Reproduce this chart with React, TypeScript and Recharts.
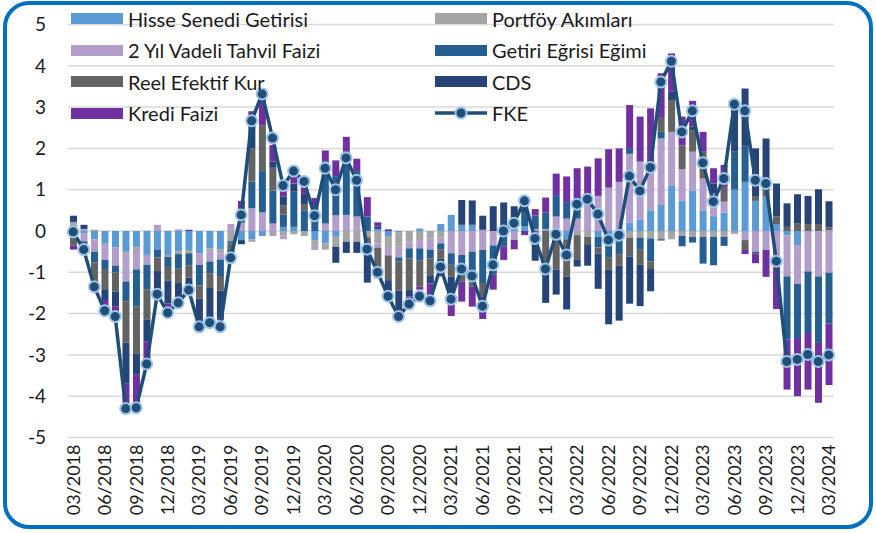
import React from "react";
import { Bar, CartesianGrid, ComposedChart, Line, XAxis, YAxis } from "recharts";

const months = [
  "03/2018", "04/2018", "05/2018", "06/2018", "07/2018", "08/2018", "09/2018", "10/2018", "11/2018", "12/2018",
  "01/2019", "02/2019", "03/2019", "04/2019", "05/2019", "06/2019", "07/2019", "08/2019", "09/2019", "10/2019",
  "11/2019", "12/2019", "01/2020", "02/2020", "03/2020", "04/2020", "05/2020", "06/2020", "07/2020", "08/2020",
  "09/2020", "10/2020", "11/2020", "12/2020", "01/2021", "02/2021", "03/2021", "04/2021", "05/2021", "06/2021",
  "07/2021", "08/2021", "09/2021", "10/2021", "11/2021", "12/2021", "01/2022", "02/2022", "03/2022", "04/2022",
  "05/2022", "06/2022", "07/2022", "08/2022", "09/2022", "10/2022", "11/2022", "12/2022", "01/2023", "02/2023",
  "03/2023", "04/2023", "05/2023", "06/2023", "07/2023", "08/2023", "09/2023", "10/2023", "11/2023", "12/2023",
  "01/2024", "02/2024", "03/2024",
];

const hisse = [
  0.12, -0.05, -0.2, -0.31, -0.4, -0.5, -0.4, -0.58, -0.46, -0.58,
  -0.5, -0.46, -0.54, -0.42, -0.44, 0, -0.22, -0.2, -0.12, 0,
  0.1, 0.1, 0, -0.22, -0.3, -0.14, 0, 0, 0, 0.05,
  -0.14, -0.03, 0, 0.06, 0, 0.17, 0.39, 0.15, 0.15, 0,
  0, 0, 0.15, 0.12, 0, 0, 0, -0.2, 0, 0,
  -0.14, -0.1, 0, 0.2, 0.27, 0.5, 0.63, 1.09, 0.73, 0.98,
  0.5, 0.36, 0.44, 1.0, 1.19, 0.73, 0.83, 0.17, -0.11, -0.34,
  0, 0, 0,
];
const portfoy = [
  0.1, 0.05, 0.03, 0, 0, -0.05, -0.06, 0, 0, -0.05,
  -0.06, -0.08, 0, -0.08, -0.1, -0.25, 0, -0.06, 0, -0.12,
  -0.1, -0.08, -0.12, -0.14, -0.15, -0.24, -0.26, -0.26, -0.15, -0.3,
  -0.27, -0.34, -0.28, -0.22, -0.18, -0.15, 0, 0, 0, 0.03,
  0, 0, 0, 0, 0, 0, 0, 0, -0.1, -0.14,
  0, 0, -0.06, -0.16, -0.16, -0.18, -0.2, -0.2, -0.12, -0.14,
  -0.14, -0.14, -0.14, -0.07, 0, 0, 0, 0, 0, 0,
  0, 0, 0.02,
];
const tahvil = [
  0, -0.2, -0.3, -0.39, -0.44, -0.67, -0.47, -0.24, 0.15, 0,
  0.04, 0, -0.28, -0.24, -0.15, 0.17, 0.2, 0.55, 0.45, 0.18,
  -0.1, 0, 0, -0.1, 0.18, 0.38, 0.39, 0.35, 0, -0.1,
  -0.18, -0.27, -0.14, -0.2, -0.27, -0.15, -0.54, -0.58, -0.5, -0.46,
  -0.35, 0, -0.22, 0, 0.05, 0.05, 0.35, 0.3, 0.3, 0.83,
  0.85, 1.05, 1.19, 1.67, 1.41, 1.14, 1.61, 1.31, 0.77, 0.94,
  0.77, 0.55, 0.27, 0, -0.22, -0.5, -0.46, -0.74, -0.99, -0.94,
  -0.98, -1.1, -1.01,
];
const getiri = [
  -0.15, -0.05, -0.26, -0.22, -0.16, -0.48, -0.9, -0.59, -0.18, -0.24,
  -0.34, -0.3, -0.5, -0.28, -0.4, -0.05, 0.35, 0.65, 1.0, 0.8,
  0.3, 0.85, 0.5, 0.55, 1.5, 0.95, 1.53, 1.1, 0.35, 0,
  0, -0.1, -0.24, -0.3, -0.22, -0.14, -0.28, -0.3, -0.73, -0.8,
  -0.7, -0.38, 0, 0.32, 0.32, 0.4, 0.52, 0.4, 0.4, 0,
  -0.26, -0.55, -0.5, 0.12, -0.28, -0.56, 0.16, 0, -0.25, -0.14,
  -0.65, -0.69, -0.22, 0.92, 0.89, -0.04, 0, 0, -1.53, -1.31,
  -1.49, -1.61, -1.23,
];
const reel = [
  -0.2, 0, -0.6, -0.49, -0.47, -1.0, -1.15, -0.73, -0.33, -0.33,
  -0.36, -0.29, -0.32, -0.36, -0.35, -0.15, 0, 0.8, 1.1, 0.55,
  0.22, 0, 0.15, 0, 0, 0, 0, 0, -0.25, -0.75,
  -0.6, -0.7, -0.77, -0.62, -0.4, -0.23, -0.28, -0.35, -0.12, -0.32,
  0, 0, 0, 0, -0.2, -0.94, -0.94, -0.9, -0.6, -0.18,
  -0.15, -0.28, -0.28, -0.46, -0.38, -0.16, 0.36, 0.77, 0.57, 0.52,
  0.65, 0, 0.36, 0, -0.24, 0.1, 0.16, 0.18, 0.1, 0.19,
  0.17, 0.17, 0.07,
];
const cds = [
  0.15, 0.1, 0, -0.26, -0.35, -1.0, -0.5, -0.54, -0.54, -0.56,
  -0.4, -0.31, -0.7, -0.85, -0.67, -0.2, -0.1, 0.6, 0, 0.15,
  0.22, 0.2, 0.25, 0, 0, -0.39, -0.27, -0.27, -0.85, 0.06,
  -0.4, -0.6, -0.16, 0, -0.2, -0.35, -0.52, 0.6, 0.59, 0.34,
  0.6, 0.69, 0.45, 0.35, -0.52, -0.8, -0.6, -0.8, -0.16, -0.52,
  -0.85, -1.33, -1.33, -1.14, -1.0, -0.56, -0.03, 0.2, 0, 0.09,
  0, 0.24, 0, 1.25, 1.37, 1.17, 1.25, 0.8, 0.57, 0.7,
  0.68, 0.84, 0.63,
];
const kredi = [
  -0.1, -0.15, 0, -0.16, -0.14, -0.56, -0.75, -0.52, 0, -0.1,
  -0.08, 0.03, 0, 0, -0.05, 0, 0.18, 0.3, 0.9, 0.4,
  0.35, 0.2, 0.25, 0.25, 0.27, 0.38, 0.36, 0.3, 0.47, 0.1,
  0.04, 0, -0.08, -0.08, -0.28, -0.08, -0.44, -0.48, -0.48, -0.55,
  -0.37, -0.32, -0.22, -0.1, 0.16, 0.36, 0.52, 0.62, 0.82, 0.73,
  0.91, 0.93, 0.81, 1.06, 1.09, 1.33, 1.06, 0.93, 0.7, 0.62,
  0.48, 0.37, 0.53, 0, -0.1, -0.24, -0.65, -1.15, -1.21, -1.41,
  -1.37, -1.45, -1.49,
];
const fke = [
  -0.02, -0.45, -1.35, -1.93, -2.07, -4.3, -4.28, -3.22, -1.53, -1.98,
  -1.74, -1.43, -2.32, -2.22, -2.32, -0.65, 0.39, 2.67, 3.32, 2.25,
  1.1, 1.45, 1.2, 0.37, 1.52, 1.0, 1.77, 1.23, -0.44, -1.0,
  -1.58, -2.07, -1.77, -1.58, -1.69, -0.87, -1.65, -0.92, -1.09, -1.82,
  -0.82, 0.0, 0.19, 0.73, -0.18, -0.92, -0.08, -0.58, 0.65, 0.77,
  0.41, -0.22, -0.1, 1.33, 0.97, 1.54, 3.61, 4.11, 2.4, 2.91,
  1.65, 0.71, 1.27, 3.07, 2.91, 1.23, 1.15, -0.73, -3.16, -3.11,
  -2.99, -3.16, -3.0,
];

const yTicks = [-5, -4, -3, -2, -1, 0, 1, 2, 3, 4, 5];

const series = [
  { key: "hisse", name: "Hisse Senedi Getirisi", color: "#5B9BD5" },
  { key: "portfoy", name: "Portföy Akımları", color: "#A5A5A5" },
  { key: "tahvil", name: "2 Yıl Vadeli Tahvil Faizi", color: "#B29DCB" },
  { key: "getiri", name: "Getiri Eğrisi Eğimi", color: "#255E91" },
  { key: "reel", name: "Reel Efektif Kur", color: "#636363" },
  { key: "cds", name: "CDS", color: "#264478" },
  { key: "kredi", name: "Kredi Faizi", color: "#7030A0" },
];

const data = months.map((month, i) => ({
  month,
  hisse: hisse[i],
  portfoy: portfoy[i],
  tahvil: tahvil[i],
  getiri: getiri[i],
  reel: reel[i],
  cds: cds[i],
  kredi: kredi[i],
  fke: fke[i],
}));

const FONT = "Lato, 'Liberation Sans', sans-serif";
const LINE = "#1F4E79";
const DOT_EDGE = "#9DC3E6";

function MonthTick(props: any) {
  const { x, y, payload } = props;
  return (
    <text
      x={x}
      y={y}
      dy="0.35em"
      textAnchor="end"
      transform={`rotate(-90, ${x}, ${y})`}
      fontSize={18}
      fontFamily={FONT}
      fill="#1a1a1a"
    >
      {payload.value}
    </text>
  );
}

function LegendBox() {
  const items = [...series.map((s) => ({ name: s.name, color: s.color, line: false })), { name: "FKE", color: LINE, line: true }];
  return (
    <div style={{ position: "absolute", left: 0, top: 0, width: 876, height: 130, pointerEvents: "none" }}>
      {items.map((it, i) => {
        const col = i % 2;
        const row = Math.floor(i / 2);
        const left = col === 0 ? 71 : 435;
        const cy = 18.5 + row * 31.5;
        return (
          <div key={it.name} style={{ position: "absolute", left, top: cy - 13, height: 26, display: "flex", alignItems: "center" }}>
            {it.line ? (
              <svg width={52} height={14} style={{ display: "block" }}>
                <line x1={0} y1={7} x2={52} y2={7} stroke={it.color} strokeWidth={3.5} />
                <circle cx={26} cy={7} r={5.5} fill={it.color} stroke={DOT_EDGE} strokeWidth={2} />
              </svg>
            ) : (
              <div style={{ width: 52, height: 11, background: it.color }} />
            )}
            <span style={{ marginLeft: 5, fontFamily: FONT, fontSize: 20, color: "#1a1a1a", whiteSpace: "nowrap" }}>{it.name}</span>
          </div>
        );
      })}
    </div>
  );
}

export default function App() {
  return (
    <div style={{ position: "absolute", left: 0, top: 0, width: 876, height: 533, background: "#fff" }}>
      <div
        style={{
          position: "absolute",
          left: 3,
          top: 1,
          width: 870,
          height: 528,
          boxSizing: "border-box",
          border: "4px solid #0070C0",
          borderRadius: 26,
        }}
      />
      <div style={{ position: "absolute", left: 0, top: 0 }}>
        <ComposedChart
          width={876}
          height={533}
          data={data}
          stackOffset="sign"
          margin={{ top: 24.5, right: 0, bottom: 0, left: 0 }}
          barSize={7}
        >
          <CartesianGrid yAxisId="left" vertical={false} stroke="#D9D9D9" strokeWidth={1.5} />
          <XAxis
            dataKey="month"
            interval={2}
            tickLine={false}
            axisLine={false}
            tickSize={0}
            tickMargin={7}
            height={95.5}
            tick={<MonthTick />}
          />
          <YAxis
            yAxisId="left"
            domain={[-5, 5]}
            ticks={yTicks}
            width={68}
            tickLine={false}
            axisLine={false}
            tickSize={0}
            tickMargin={22}
            tick={{ fontSize: 19, fontFamily: FONT, fill: "#1a1a1a" }}
          />
          <YAxis
            yAxisId="right"
            orientation="right"
            domain={[-5, 5]}
            ticks={yTicks}
            width={42}
            tickLine={false}
            axisLine={false}
            tickSize={0}
            tickMargin={9}
            tick={{ fontSize: 19, fontFamily: FONT, fill: "#1a1a1a", textAnchor: "start" }}
          />
          {series.map((s) => (
            <Bar key={s.key} yAxisId="left" dataKey={s.key} name={s.name} stackId="a" fill={s.color} isAnimationActive={false} />
          ))}
          <Line
            yAxisId="left"
            type="linear"
            dataKey="fke"
            name="FKE"
            stroke={LINE}
            strokeWidth={3.5}
            dot={{ r: 5.5, fill: LINE, stroke: DOT_EDGE, strokeWidth: 2 }}
            isAnimationActive={false}
          />
        </ComposedChart>
      </div>
      <LegendBox />
    </div>
  );
}
